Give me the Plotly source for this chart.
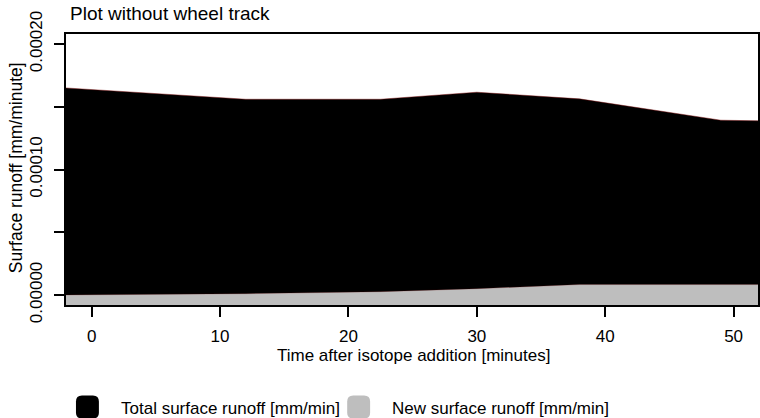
import plotly.graph_objects as go

# Sampling times [minutes after isotope addition]
times = [-2, 12, 22.5, 30, 38, 49, 52]
# Total surface runoff [mm/min]
total_runoff = [0.000165, 0.000156, 0.000156, 0.0001616, 0.0001563, 0.0001393, 0.0001388]
# New (isotope-labelled) surface runoff [mm/min]
new_runoff = [0.0, 0.0000010, 0.0000026, 0.0000050, 0.0000083, 0.0000083, 0.0000083]

x_ticks = [0, 10, 20, 30, 40, 50]
y_ticks = [0.0, 0.00005, 0.0001, 0.00015, 0.0002]
y_tick_text = ["0.00000", "", "0.00010", "", "0.00020"]

legend_labels = ["Total surface runoff [mm/min]", "New surface runoff [mm/min]"]
legend_colors = ["#000000", "#bebebe"]

FONT = "Liberation Sans, Arial, Helvetica, sans-serif"
TXT = 17
W, H = 760, 418
ML, MR, MT, MB = 66, 0, 34, 113
PW, PH = W - ML - MR, H - MT - MB

x_range = [-2, 51.9]
y_range = [-0.000008, 0.000208]
floor = [-0.00002] * len(times)


def px(xp):
    return (xp - ML) / PW


def py(yp):
    return (H - MB - yp) / PH


def rounded_square(cx, cy, size, r):
    """SVG path (paper coords) for a rounded square centred at pixel (cx, cy)."""
    x0, x1 = cx - size / 2, cx + size / 2
    y0, y1 = cy - size / 2, cy + size / 2
    pts = [
        f"M {px(x0 + r)} {py(y0)}",
        f"L {px(x1 - r)} {py(y0)}",
        f"Q {px(x1)} {py(y0)} {px(x1)} {py(y0 + r)}",
        f"L {px(x1)} {py(y1 - r)}",
        f"Q {px(x1)} {py(y1)} {px(x1 - r)} {py(y1)}",
        f"L {px(x0 + r)} {py(y1)}",
        f"Q {px(x0)} {py(y1)} {px(x0)} {py(y1 - r)}",
        f"L {px(x0)} {py(y0 + r)}",
        f"Q {px(x0)} {py(y0)} {px(x0 + r)} {py(y0)}",
        "Z",
    ]
    return " ".join(pts)


fig = go.Figure()

# total runoff: filled from below the axis floor
fig.add_trace(go.Scatter(x=times, y=floor, mode="lines", line=dict(width=0),
                         showlegend=False, hoverinfo="skip"))
fig.add_trace(go.Scatter(x=times, y=total_runoff, mode="lines", fill="tonexty",
                         fillcolor=legend_colors[0],
                         line=dict(color="rgba(120,0,0,0.55)", width=0.8),
                         name=legend_labels[0], showlegend=False))

# new runoff drawn over it
fig.add_trace(go.Scatter(x=times, y=floor, mode="lines", line=dict(width=0),
                         showlegend=False, hoverinfo="skip"))
fig.add_trace(go.Scatter(x=times, y=new_runoff, mode="lines", fill="tonexty",
                         fillcolor=legend_colors[1],
                         line=dict(color="rgba(120,0,0,0.35)", width=0.6),
                         name=legend_labels[1], showlegend=False))

shapes = []
annotations = []

# legend below the plot
legend_sq_x = [87.5, 359.5]
legend_txt_x = [119, 391]
for lab, col, sx, tx in zip(legend_labels, legend_colors, legend_sq_x, legend_txt_x):
    shapes.append(dict(type="path", xref="paper", yref="paper",
                       path=rounded_square(sx, 407, 23, 6),
                       fillcolor=col, line=dict(width=0), layer="above"))
    annotations.append(dict(text=lab, xref="paper", yref="paper",
                            x=px(tx), y=py(408), xanchor="left", yanchor="middle",
                            showarrow=False, font=dict(size=TXT, color="black", family=FONT)))

# plot title
annotations.append(dict(text="Plot without wheel track", xref="paper", yref="paper",
                        x=px(68), y=py(14), xanchor="left", yanchor="middle",
                        showarrow=False, font=dict(size=19, color="black", family=FONT)))
# axis titles
annotations.append(dict(text="Time after isotope addition [minutes]", xref="paper", yref="paper",
                        x=px(415), y=py(355), xanchor="center", yanchor="middle",
                        showarrow=False, font=dict(size=TXT, color="black", family=FONT)))
annotations.append(dict(text="Surface runoff [mm/minute]", xref="paper", yref="paper",
                        x=px(16), y=py(168), xanchor="center", yanchor="middle", textangle=-90,
                        showarrow=False, font=dict(size=TXT + 0.5, color="black", family=FONT)))

fig.update_layout(
    width=W, height=H,
    margin=dict(l=ML, r=MR, t=MT, b=MB, pad=0),
    paper_bgcolor="white", plot_bgcolor="white",
    font=dict(family=FONT, size=TXT, color="black"),
    shapes=shapes, annotations=annotations,
    showlegend=False,
)
fig.update_xaxes(range=x_range, tickvals=x_ticks, ticks="outside", ticklen=10, tickwidth=2,
                 tickcolor="black", showgrid=False, zeroline=False,
                 showline=True, linecolor="black", linewidth=2, mirror=True,
                 tickfont=dict(size=TXT, family=FONT, color="black"), ticklabelstandoff=5)
fig.update_yaxes(range=y_range, tickvals=y_ticks, ticktext=y_tick_text, tickangle=-90,
                 ticks="outside", ticklen=10, tickwidth=2, tickcolor="black",
                 showgrid=False, zeroline=False,
                 showline=True, linecolor="black", linewidth=2, mirror=True,
                 tickfont=dict(size=TXT, family=FONT, color="black"), ticklabelstandoff=5)

fig.write_html("out.html")
